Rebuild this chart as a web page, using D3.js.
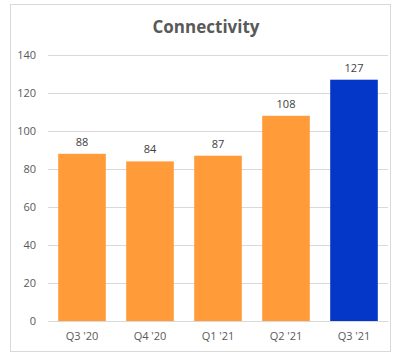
<!DOCTYPE html>
<html><head><meta charset="utf-8">
<script src="https://cdn.jsdelivr.net/npm/d3@7"></script>
<style>body{margin:0;background:#fff}svg{display:block}</style>
</head><body>
<script>
const categories = ["Q3 '20","Q4 '20","Q1 '21","Q2 '21","Q3 '21"];
const values = [88, 84, 87, 108, 127];
const barColors = ["#FF9B38","#FF9B38","#FF9B38","#FF9B38","#0437C8"];
const yTicks = [0,20,40,60,80,100,120,140];
const title = "Connectivity";

const W = 398, H = 353;
const svg = d3.select("body").append("svg").attr("width", W).attr("height", H);
svg.append("rect").attr("x",10.5).attr("y",4.5).attr("width",380).attr("height",347)
  .attr("fill","#fff").attr("stroke","#d9d9d9");

const x = d3.scaleBand().domain(categories).range([48,388]).paddingInner(0.3).paddingOuter(0.15);
const y = d3.scaleLinear().domain([0,140]).range([321,55]);

svg.append("text").attr("x",206).attr("y",33).attr("text-anchor","middle")
  .attr("font-family","Open Sans, Liberation Sans, sans-serif").attr("font-weight","bold")
  .attr("font-size",17).attr("fill","#595959").text(title);

const ya = svg.append("g").attr("transform","translate(48,0)")
  .call(d3.axisLeft(y).tickValues(yTicks).tickSize(-340).tickPadding(12));
ya.select(".domain").remove();
ya.selectAll("line").attr("stroke","#d9d9d9");
ya.selectAll("text").attr("font-family","Open Sans, Liberation Sans, sans-serif").attr("font-size",11).attr("fill","#595959");

svg.selectAll(".bar").data(values).enter().append("rect")
  .attr("x",(d,i)=>x(categories[i])).attr("width",x.bandwidth())
  .attr("y",d=>y(d)).attr("height",d=>y(0)-y(d))
  .attr("fill",(d,i)=>barColors[i]);

svg.selectAll(".lbl").data(values).enter().append("text")
  .attr("x",(d,i)=>x(categories[i])+x.bandwidth()/2).attr("y",d=>y(d)-8)
  .attr("text-anchor","middle").attr("font-family","Open Sans, Liberation Sans, sans-serif")
  .attr("font-size",11).attr("fill","#404040").text(d=>d);

const xa = svg.append("g").attr("transform","translate(0,321)")
  .call(d3.axisBottom(x).tickSize(0).tickPadding(11));
xa.select(".domain").attr("stroke","#d9d9d9");
xa.selectAll("text").attr("font-family","Open Sans, Liberation Sans, sans-serif").attr("font-size",11).attr("fill","#595959");
</script>
</body></html>
